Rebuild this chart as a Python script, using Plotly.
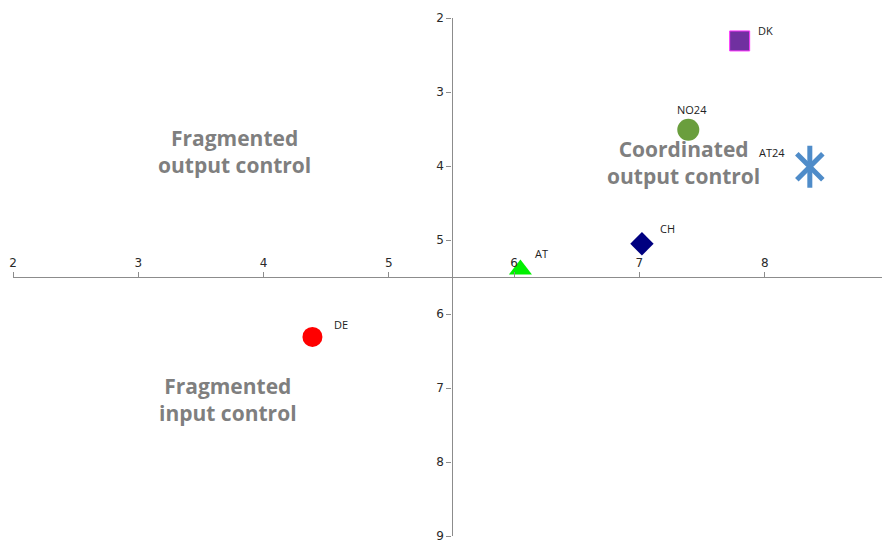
import plotly.graph_objects as go

# Data
countries = ["DK", "NO24", "AT24", "CH", "AT", "DE"]
x_vals = [7.80, 7.39, 8.36, 7.02, 6.05, 4.39]
y_vals = [2.31, 3.51, 4.01, 5.05, 5.40, 6.31]
tick_vals = [2, 3, 4, 5, 6, 7, 8, 9]
quadrant_labels = ["Fragmented<br>output control", "Coordinated<br>output control", "Fragmented<br>input control"]

# Styles (separate from data)
marker_styles = {
    "DK": dict(symbol="square", size=20, color="#7030A0", line=dict(color="#FF33FF", width=1)),
    "NO24": dict(symbol="circle", size=22, color="#6A9E3D", line=dict(width=0)),
    "CH": dict(symbol="diamond", size=18, color="#000080", line=dict(width=0)),
    "AT": dict(symbol="triangle-up", size=20, color="#00F000", line=dict(width=0)),
    "DE": dict(symbol="circle", size=20, color="#FF0000", line=dict(width=0)),
}
label_offsets = {"DK": (26, 10), "NO24": (4, 20), "AT24": (-38, 14), "CH": (26, 15), "AT": (21, 16), "DE": (29, 12)}

fig = go.Figure()
for name, x, y in zip(countries, x_vals, y_vals):
    if name == "AT24":
        for sym in ["x-thin-open", "line-ns-open"]:
            fig.add_trace(go.Scatter(x=[x], y=[y], mode="markers", showlegend=False,
                                     marker=dict(symbol=sym, size=26 if sym == "x-thin-open" else 30,
                                                 color="#4F8CC9",
                                                 line=dict(color="#4F8CC9", width=5))))
    else:
        fig.add_trace(go.Scatter(x=[x], y=[y], mode="markers", showlegend=False,
                                 marker=marker_styles[name]))
    dx, dy = label_offsets[name]
    fig.add_annotation(x=x, y=y, text=name, showarrow=False, xshift=dx, yshift=dy,
                       font=dict(family="Open Sans", size=11, color="#222222"))

quad_pos = [(0.252, 0.743), (0.765, 0.722), (0.245, 0.263)]
for txt, (px, py) in zip(quadrant_labels, quad_pos):
    fig.add_annotation(x=px, y=py, xref="paper", yref="paper", text="<b>" + txt + "</b>",
                       xanchor="center", yanchor="middle", showarrow=False,
                       font=dict(family="Open Sans", size=21, color="#7F7F7F"))

axis_common = dict(tickvals=tick_vals, anchor="free", position=0.5,
                   showline=True, linecolor="#8C8C8C", linewidth=1.3, ticks="outside", ticklen=5,
                   tickcolor="#8C8C8C", showgrid=False, zeroline=False, automargin=False,
                   ticklabeloverflow="allow",
                   tickfont=dict(family="DejaVu Sans", size=12, color="#2A2A2A"))

fig.update_layout(
    width=882, height=532,
    margin=dict(l=5, r=0, t=10, b=4),
    paper_bgcolor="white", plot_bgcolor="white",
    xaxis=dict(range=[2, 9], side="top", **axis_common),
    yaxis=dict(range=[9, 2], side="left", **axis_common),
)
fig.write_html("out.html")
